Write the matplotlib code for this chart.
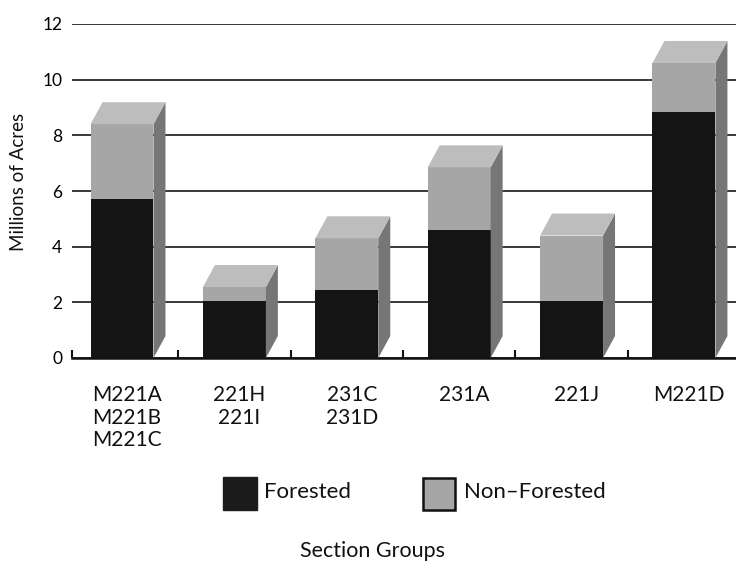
import matplotlib.pyplot as plt
from matplotlib.patches import Polygon, Rectangle
from matplotlib.transforms import blended_transform_factory

plt.rcParams['font.family'] = ['Lato', 'DejaVu Sans']

groups = ["M221A\nM221B\nM221C", "221H\n221I", "231C\n231D", "231A", "221J", "M221D"]
forested = [5.7, 2.05, 2.45, 4.6, 2.05, 8.85]
non_forested = [2.7, 0.5, 1.85, 2.25, 2.35, 1.75]
y_ticks = [0, 2, 4, 6, 8, 10, 12]

W, H = 736, 565
fig = plt.figure(figsize=(W / 100, H / 100), dpi=100)

# plot area in pixels: x from 72 to 736, y=0 at 358 and y=12 at 24
ax = fig.add_axes([72 / W, 1 - 358 / H, (W - 72) / W, (358 - 24) / H])
ax.set_xlim(-0.445, 5.463)
ax.set_ylim(0, 12)

front_color = '#141414'
nonf_color = '#a6a6a6'
top_color = '#bdbdbd'
side_color = '#767676'
bar_w = 0.56

xs = list(range(len(groups)))
ax.bar(xs, forested, width=bar_w, color=front_color, zorder=3)
ax.bar(xs, non_forested, width=bar_w, bottom=forested, color=nonf_color, zorder=3)

# depth of the 3D boxes, converted from pixels to data units
px_per_x = (W - 72) / (5.463 + 0.445)
px_per_y = (358 - 24) / 12
ddx = 12 / px_per_x
ddy = 22 / px_per_y

for x, f, n in zip(xs, forested, non_forested):
    total = f + n
    xl, xr = x - bar_w / 2, x + bar_w / 2
    side = Polygon([(xr, 0), (xr + ddx, ddy), (xr + ddx, total + ddy), (xr, total)],
                   closed=True, facecolor=side_color, edgecolor='none', zorder=3, clip_on=False)
    top = Polygon([(xl, total), (xl + ddx, total + ddy), (xr + ddx, total + ddy), (xr, total)],
                  closed=True, facecolor=top_color, edgecolor='none', zorder=3, clip_on=False)
    ax.add_patch(side)
    ax.add_patch(top)

ax.set_yticks(y_ticks)
ax.set_yticklabels([str(v) for v in y_ticks], fontsize=12.5)
ax.tick_params(axis='y', length=0, pad=7)
ax.yaxis.grid(True, color='#2a2a2a', linewidth=1.3, zorder=1)
ax.set_axisbelow(True)

ax.set_xticks([-0.445] + [i + 0.5 for i in range(len(groups) - 1)])
ax.set_xticklabels([])
ax.tick_params(axis='x', direction='in', length=6, width=1.5, color='#111111')

for s in ['top', 'right', 'left']:
    ax.spines[s].set_visible(False)
ax.spines['bottom'].set_linewidth(1.8)
ax.spines['bottom'].set_color('#111111')
ax.spines['bottom'].set_zorder(2)

# category labels under each bar
lab_tr = blended_transform_factory(ax.transData, fig.transFigure)
for i, g in enumerate(groups):
    ax.text(i + 0.045, 1 - 385 / H, g, transform=lab_tr, ha='center', va='top',
            fontsize=15, linespacing=1.17, multialignment='center', color='#111111')

fig.text(19 / W, 1 - 182 / H, "Millions of Acres", rotation=90, ha='center', va='center',
         fontsize=13.5, color='#111111')
fig.text(372 / W, 1 - 551 / H, "Section Groups", ha='center', va='center',
         fontsize=15.5, color='#111111')

# legend boxes
fig.add_artist(Rectangle((223 / W, 1 - 510 / H), 34 / W, 33 / H, transform=fig.transFigure,
                         facecolor='#1c1c1c', edgecolor='#1c1c1c', linewidth=1.0))
fig.add_artist(Rectangle((423 / W, 1 - 510 / H), 32 / W, 32 / H, transform=fig.transFigure,
                         facecolor=nonf_color, edgecolor='#111111', linewidth=1.8))
fig.text(264 / W, 1 - 492 / H, "Forested", ha='left', va='center', fontsize=16, color='#111111')
fig.text(464 / W, 1 - 492 / H, "Non\u2013Forested", ha='left', va='center', fontsize=16,
         color='#111111')

fig.savefig("out.png", dpi=100)
